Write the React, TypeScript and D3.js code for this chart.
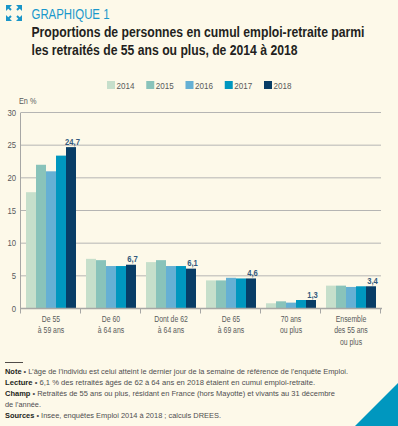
import * as d3 from 'd3';
import React from 'react';

// chart data
const categories = [
  ['De 55', 'à 59 ans'],
  ['De 60', 'à 64 ans'],
  ['Dont de 62', 'à 64 ans'],
  ['De 65', 'à 69 ans'],
  ['70 ans', 'ou plus'],
  ['Ensemble', 'des 55 ans', 'ou plus'],
];
const years = ['2014', '2015', '2016', '2017', '2018'];
const v2014 = [17.8, 7.6, 7.1, 4.3, 0.8, 3.5];
const v2015 = [22.0, 7.4, 7.4, 4.3, 1.1, 3.5];
const v2016 = [21.0, 6.5, 6.5, 4.7, 0.9, 3.3];
const v2017 = [23.4, 6.5, 6.5, 4.6, 1.3, 3.4];
const v2018 = [24.7, 6.7, 6.1, 4.6, 1.3, 3.4];
const series = [v2014, v2015, v2016, v2017, v2018];
const yTicks = [0, 5, 10, 15, 20, 25, 30];

const colors = ['#c6dfcb', '#89c3ba', '#65b0d4', '#0097bf', '#083d66'];
const FONT = "'Liberation Sans', Arial, sans-serif";
const GREY = '#58595b';

// narrow text: the original uses a condensed face, so squeeze horizontally
const CText = ({ x, y, sx = 0.82, size, anchor = 'start', weight = 'normal', fill = GREY, children }: any) => (
  <text transform={`translate(${x},${y}) scale(${sx},1)`} textAnchor={anchor} fontSize={size} fontWeight={weight} fill={fill}>
    {children}
  </text>
);

const App = () => {
  const W = 398, H = 426;
  const x = d3.scaleBand().domain(categories.map((c, i) => String(i))).range([21, 381]).padding(0);
  const xs = d3.scaleBand().domain(years).range([5, 55]).padding(0);
  const y = d3.scaleLinear().domain([0, 30]).range([308.5, 112.5]);
  const fmt = (v) => d3.format('.1f')(v).replace('.', ',');

  const legendX = d3.scalePoint().domain(years).range([107, 264]);

  return (
    <svg width={W} height={H} style={{ position: 'absolute', left: 0, top: 0 }} fontFamily={FONT}>
      <rect width={W} height={H} fill="#fdf9e9" />

      {/* expand icon */}
      <g fill="#1a96c8" stroke="#1a96c8" strokeWidth={2}>
        <path d="M6,5 L12,5 L6,11 Z" strokeWidth={0} />
        <line x1={7} y1={6} x2={11} y2={10} />
        <path d="M22,5 L16,5 L22,11 Z" strokeWidth={0} />
        <line x1={21} y1={6} x2={17} y2={10} />
        <path d="M6,21 L12,21 L6,15 Z" strokeWidth={0} />
        <line x1={7} y1={20} x2={11} y2={16} />
        <path d="M22,21 L16,21 L22,15 Z" strokeWidth={0} />
        <line x1={21} y1={20} x2={17} y2={16} />
      </g>
      <text x={31.5} y={19} fontSize={14.5} fill="#1a98cc" textLength={78} lengthAdjust="spacingAndGlyphs">GRAPHIQUE 1</text>
      <text x={31.5} y={37.3} fontSize={14} fontWeight="bold" fill="#231f20" textLength={333} lengthAdjust="spacingAndGlyphs">Proportions de personnes en cumul emploi-retraite parmi</text>
      <text x={31.5} y={54.5} fontSize={14} fontWeight="bold" fill="#231f20" textLength={266} lengthAdjust="spacingAndGlyphs">les retraités de 55 ans ou plus, de 2014 à 2018</text>

      {/* legend */}
      {years.map((yr, i) => (
        <g key={yr} transform={`translate(${legendX(yr)},81)`}>
          <rect width={8} height={8} fill={colors[i]} />
          <CText x={9.5} y={7.8} size={9.5} sx={0.85}>{yr}</CText>
        </g>
      ))}

      <CText x={19} y={104} size={8.5} sx={0.86}>En %</CText>

      {/* grid */}
      {yTicks.map((t) => (
        <g key={t}>
          {t > 0 && <line x1={21} x2={381} y1={y(t)} y2={y(t)} stroke="#b5b5b3" strokeWidth={1} />}
          <CText x={16} y={y(t) + 3} size={8.8} sx={0.88} anchor="end">{t}</CText>
        </g>
      ))}
      <line x1={20.5} x2={20.5} y1={y(30)} y2={y(0)} stroke="#a7a7a5" strokeWidth={1} />

      {/* bars */}
      {categories.map((c, ci) => (
        <g key={ci} transform={`translate(${x(String(ci))},0)`}>
          {series.map((s, si) => (
            <rect key={si} x={xs(years[si])} width={xs.bandwidth()} y={y(s[ci])} height={y(0) - y(s[ci])} fill={colors[si]} />
          ))}
          <CText x={xs('2018') + xs.bandwidth() / 2 + 1.5} y={y(v2018[ci]) - 2.5} size={9} sx={0.85} weight="bold" fill="#34597d" anchor="middle">{fmt(v2018[ci])}</CText>
          {c.map((line, li) => (
            <CText key={li} x={x.bandwidth() / 2} y={321.5 + li * 11.5} size={8.6} sx={0.8} anchor="middle">{line}</CText>
          ))}
        </g>
      ))}

      {/* x axis */}
      <line x1={20} x2={382} y1={y(0)} y2={y(0)} stroke="#a7a7a5" strokeWidth={1.5} />
      {d3.range(categories.length + 1).map((i) => {
        const px = 21 + i * x.bandwidth() - 0.5;
        return <line key={i} x1={px} x2={px} y1={y(0)} y2={y(0) + 5} stroke="#a7a7a5" strokeWidth={1} />;
      })}

      {/* notes */}
      <line x1={5} x2={23} y1={362.5} y2={362.5} stroke="#231f20" strokeWidth={0.8} />
      <g fontSize={7.6} fill="#4d4d4f">
        <text x={5} y={373.5} textLength={343} lengthAdjust="spacingAndGlyphs"><tspan fontWeight="bold" fill="#231f20">Note</tspan> • L’âge de l’individu est celui atteint le dernier jour de la semaine de référence de l’enquête Emploi.</text>
        <text x={5} y={384.5} textLength={310} lengthAdjust="spacingAndGlyphs"><tspan fontWeight="bold" fill="#231f20">Lecture</tspan> • 6,1 % des retraités âgés de 62 à 64 ans en 2018 étaient en cumul emploi-retraite.</text>
        <text x={5} y={395.5} textLength={330} lengthAdjust="spacingAndGlyphs"><tspan fontWeight="bold" fill="#231f20">Champ</tspan> • Retraités de 55 ans ou plus, résidant en France (hors Mayotte) et vivants au 31 décembre</text>
        <text x={5} y={406.5} textLength={36} lengthAdjust="spacingAndGlyphs">de l’année.</text>
        <text x={5} y={418} textLength={216} lengthAdjust="spacingAndGlyphs"><tspan fontWeight="bold" fill="#231f20">Sources</tspan> • Insee, enquêtes Emploi 2014 à 2018 ; calculs DREES.</text>
      </g>

      <path d="M355,426 L398,426 L398,383 Z" fill="#0097bf" />
    </svg>
  );
};

export default App;
